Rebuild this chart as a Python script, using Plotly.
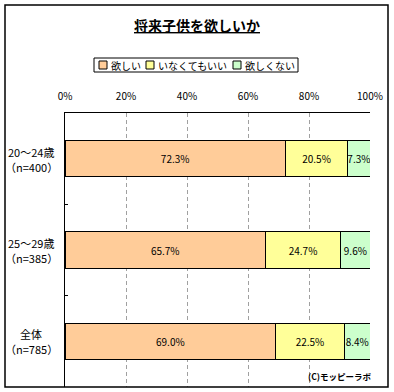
import plotly.graph_objects as go

categories = ["20～24歳", "25～29歳", "全体"]
sample_sizes = ["（n=400）", "（n=385）", "（n=785）"]
series_names = ["欲しい", "いなくてもいい", "欲しくない"]
want = [72.3, 65.7, 69.0]
either = [20.5, 24.7, 22.5]
not_want = [7.3, 9.6, 8.4]
x_ticks = [0, 20, 40, 60, 80, 100]
x_tick_labels = ["0%", "20%", "40%", "60%", "80%", "100%"]

colors = ["#FFCC99", "#FFFF99", "#CCFFCC"]
FONT = "Noto Sans CJK JP"

W, H = 394, 392
L, R, T, B = 65, 370, 113, 387


def px(xp):
    return (xp - L) / (R - L)


def py(yp):
    return (B - yp) / (B - T)


fig = go.Figure()
for name, vals, col in zip(series_names, [want, either, not_want], colors):
    fig.add_trace(go.Bar(
        y=categories, x=vals, name=name, orientation="h",
        marker=dict(color=col, line=dict(color="black", width=1)),
        width=0.4,
        text=[f"{v:.1f}%" for v in vals],
        texttemplate="%{text}",
        textposition="inside", insidetextanchor="middle", textangle=0,
        textfont=dict(family=FONT, size=10, color="black"),
        showlegend=False, hoverinfo="skip",
    ))

fig.update_layout(
    width=W, height=H,
    margin=dict(l=L, r=W - R, t=T, b=H - B, pad=0),
    barmode="stack", barnorm="percent",
    plot_bgcolor="white", paper_bgcolor="white",
    font=dict(family=FONT, size=10, color="black"),
    uniformtext=dict(minsize=10, mode="show"),
    showlegend=False,
)
fig.update_xaxes(
    range=[0, 100], side="top", tickvals=x_ticks, ticktext=x_tick_labels,
    showgrid=True, gridcolor="#A0A0A0", griddash="4px,3px", gridwidth=1,
    zeroline=False, showline=True, linecolor="black", linewidth=1,
    ticks="", tickfont=dict(family=FONT, size=10), ticklabelstandoff=8,
)
fig.update_yaxes(
    type="category", categoryorder="array", categoryarray=categories,
    autorange="reversed", showticklabels=False,
    tickson="boundaries", ticks="inside", ticklen=3, tickcolor="black",
    showgrid=False, zeroline=False, showline=True, linecolor="black", linewidth=1,
)

# category labels (centered, two lines)
for c, n in zip(categories, sample_sizes):
    fig.add_annotation(x=px(31), xref="paper", y=c, yref="y", text=c,
                       showarrow=False, xanchor="center", yanchor="middle",
                       yshift=7, font=dict(family=FONT, size=11))
    fig.add_annotation(x=px(31), xref="paper", y=c, yref="y", text=n,
                       showarrow=False, xanchor="center", yanchor="middle",
                       yshift=-8, font=dict(family=FONT, size=11))

# outer border
fig.add_shape(type="rect", xref="paper", yref="paper",
              x0=px(5), x1=px(388), y0=py(387), y1=py(5),
              line=dict(color="black", width=1.5), fillcolor="rgba(0,0,0,0)")

# title
fig.add_annotation(x=px(196.5), y=py(25), xref="paper", yref="paper",
                   text="<b><u>将来子供を欲しいか</u></b>", showarrow=False,
                   xanchor="center", yanchor="middle",
                   font=dict(family=FONT, size=14))

# legend box
fig.add_shape(type="rect", xref="paper", yref="paper",
              x0=px(94), x1=px(298), y0=py(72), y1=py(58),
              line=dict(color="black", width=1), fillcolor="white")
sq_x = [99, 146, 233]
for name, col, sx in zip(series_names, colors, sq_x):
    fig.add_shape(type="rect", xref="paper", yref="paper",
                  x0=px(sx), x1=px(sx + 8), y0=py(69), y1=py(61),
                  line=dict(color="black", width=1), fillcolor=col)
    fig.add_annotation(x=px(sx + 10), y=py(65), xref="paper", yref="paper",
                       text=name, showarrow=False, xanchor="left",
                       yanchor="middle", font=dict(family=FONT, size=10))

# copyright
fig.add_annotation(x=px(374), y=py(376), xref="paper", yref="paper",
                   text="<b>(C)モッピーラボ</b>", showarrow=False,
                   xanchor="right", yanchor="middle",
                   font=dict(family=FONT, size=8.5))

fig.write_html("out.html", config={"displayModeBar": False},
               post_script="document.body.style.margin='0';document.body.style.overflow='hidden';")
